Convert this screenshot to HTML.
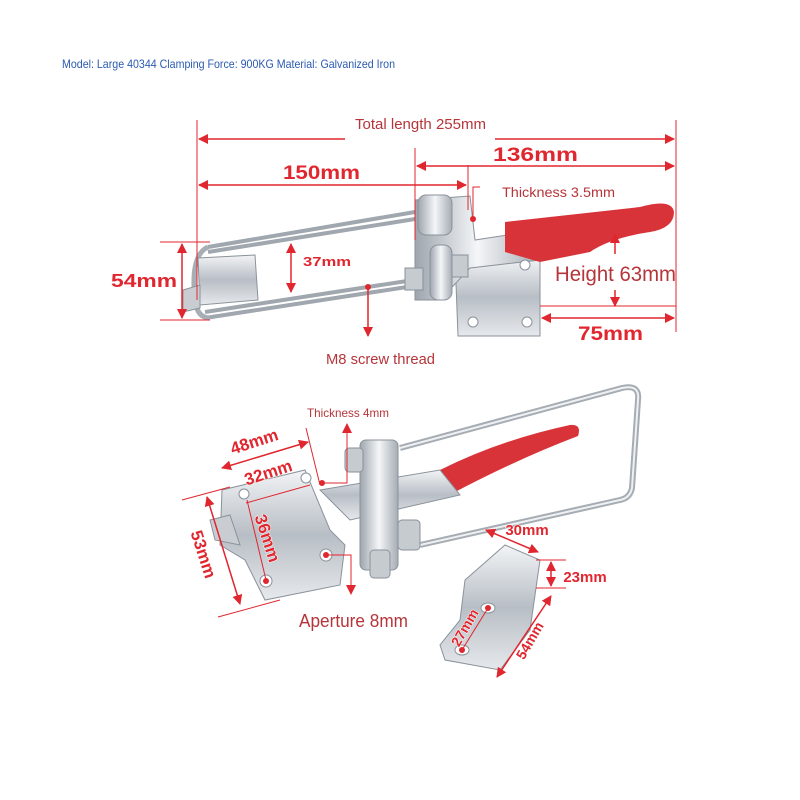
<!DOCTYPE html>
<html><head><meta charset="utf-8"><style>
html,body{margin:0;padding:0;background:#fff;width:800px;height:800px;overflow:hidden}
svg{display:block}
.t{font-family:"Liberation Sans Narrow","Liberation Sans",sans-serif;fill:#b5353a}
.b{font-family:"Liberation Sans","DejaVu Sans",sans-serif;font-weight:bold;fill:#e0262e;stroke:#fff;stroke-width:1;paint-order:stroke}
.d{stroke:#e0262e;stroke-width:1.5;fill:none}
.e{stroke:#e0262e;stroke-width:1;fill:none}
</style></head><body>
<svg width="800" height="800" viewBox="0 0 800 800" xmlns="http://www.w3.org/2000/svg">
<defs>
<marker id="a" markerWidth="10" markerHeight="10" refX="9" refY="5" orient="auto-start-reverse" markerUnits="userSpaceOnUse"><path d="M0,0 L10,5 L0,10 Z" fill="#e0262e"/></marker>
<linearGradient id="m" x1="0" y1="0" x2="0" y2="1"><stop offset="0" stop-color="#f2f4f6"/><stop offset=".5" stop-color="#b8bec5"/><stop offset="1" stop-color="#e6e9ec"/></linearGradient>
<linearGradient id="mh" x1="0" y1="0" x2="1" y2="0"><stop offset="0" stop-color="#9ea5ad"/><stop offset=".5" stop-color="#f4f6f8"/><stop offset="1" stop-color="#a5acb3"/></linearGradient>
</defs>
<text x="62" y="68" font-family="'Liberation Sans Narrow','Liberation Sans',sans-serif" font-size="12" fill="#2b5bb0" textLength="333" lengthAdjust="spacingAndGlyphs">Model: Large 40344 Clamping Force: 900KG Material: Galvanized Iron</text>

<!-- TOP CLAMP -->
<g stroke="#8a929a" stroke-width="1">
<path d="M208,247 L415,212 M208,252 L415,219" stroke="#a0a7ae" stroke-width="4" fill="none"/>
<path d="M205,312 L420,279 M205,318 L420,285" stroke="#a0a7ae" stroke-width="4" fill="none"/>
<path d="M208,247 Q190,255 195,300 Q197,318 210,318" stroke="#a8aeb5" stroke-width="5" fill="none"/>
<polygon points="198,258 255,255 258,300 200,305" fill="url(#m)"/>
<polygon points="183,290 200,285 200,308 183,312" fill="#c9cdd2"/>
<polygon points="455,258 540,258 540,336 458,336" fill="url(#m)"/>
<polygon points="415,200 470,196 475,240 540,230 540,260 470,268 440,300 415,300" fill="url(#mh)"/>
<rect x="418" y="195" width="34" height="40" rx="8" fill="url(#mh)"/>
<rect x="430" y="245" width="22" height="55" rx="8" fill="url(#mh)"/>
<rect x="405" y="268" width="18" height="22" fill="#c6cbd0"/>
<rect x="452" y="255" width="16" height="22" fill="#c6cbd0"/>
<circle cx="473" cy="322" r="5" fill="#fff"/><circle cx="527" cy="322" r="5" fill="#fff"/>
<circle cx="525" cy="265" r="5" fill="#fff"/>
</g>
<path d="M505,222 L640,207 Q672,198 674,212 Q674,228 650,232 Q610,238 590,252 L540,262 L505,252 Z" fill="#d9333a"/>

<line class="e" x1="197" y1="120" x2="197" y2="300"/>
<line class="e" x1="676" y1="120" x2="676" y2="332"/>
<line class="e" x1="415" y1="148" x2="415" y2="240"/>
<line class="e" x1="468" y1="165" x2="468" y2="210"/>
<line class="d" x1="199" y1="139" x2="345" y2="139" marker-start="url(#a)"/>
<line class="d" x1="495" y1="139" x2="674" y2="139" marker-end="url(#a)"/>
<text class="t" x="355" y="129" font-size="15" textLength="131" lengthAdjust="spacingAndGlyphs">Total length 255mm</text>
<line class="d" x1="417" y1="166" x2="674" y2="166" marker-start="url(#a)" marker-end="url(#a)"/>
<text class="b" x="493" y="161" font-size="19" textLength="85" lengthAdjust="spacingAndGlyphs">136mm</text>
<line class="d" x1="199" y1="185" x2="466" y2="185" marker-start="url(#a)" marker-end="url(#a)"/>
<text class="b" x="283" y="179" font-size="19" textLength="77" lengthAdjust="spacingAndGlyphs">150mm</text>
<line class="e" x1="160" y1="242" x2="210" y2="242"/>
<line class="e" x1="160" y1="320" x2="210" y2="320"/>
<line class="d" x1="182" y1="244" x2="182" y2="318" marker-start="url(#a)" marker-end="url(#a)"/>
<text class="b" x="111" y="287" font-size="18" textLength="66" lengthAdjust="spacingAndGlyphs">54mm</text>
<line class="d" x1="291" y1="244" x2="291" y2="292" marker-start="url(#a)" marker-end="url(#a)"/>
<text class="b" x="303" y="266" font-size="13" textLength="48" lengthAdjust="spacingAndGlyphs">37mm</text>
<path class="e" d="M473,218 L473,187 L480,187"/><circle cx="473" cy="219" r="3" fill="#e0262e"/>
<text class="t" x="502" y="197" font-size="14" textLength="113" lengthAdjust="spacingAndGlyphs">Thickness 3.5mm</text>
<text class="t" x="555" y="281" font-size="21" textLength="121" lengthAdjust="spacingAndGlyphs">Height 63mm</text>
<line class="d" x1="615" y1="234" x2="615" y2="254" marker-start="url(#a)"/>
<line class="d" x1="615" y1="290" x2="615" y2="306" marker-end="url(#a)"/>
<line class="e" x1="540" y1="306" x2="676" y2="306"/>
<line class="d" x1="542" y1="318" x2="674" y2="318" marker-start="url(#a)" marker-end="url(#a)"/>
<text class="b" x="578" y="340" font-size="19" textLength="65" lengthAdjust="spacingAndGlyphs">75mm</text>
<circle cx="368" cy="287" r="3" fill="#e0262e"/>
<line class="d" x1="368" y1="287" x2="368" y2="336" marker-end="url(#a)"/>
<text class="t" x="326" y="364" font-size="15" textLength="109" lengthAdjust="spacingAndGlyphs">M8 screw thread</text>

<!-- BOTTOM CLAMP -->
<g stroke="#8a929a" stroke-width="1" fill="none">
<path d="M400,448 L622,388 Q640,384 638,400 L632,488 Q630,498 620,500 L420,545" stroke="#a5acb3" stroke-width="6"/>
<path d="M400,448 L622,388 Q640,384 638,400 L632,488 Q630,498 620,500 L420,545" stroke="#eef0f2" stroke-width="2"/>
</g>
<path d="M440,470 Q500,440 570,425 Q582,424 578,436 Q520,458 455,492 Z" fill="#d9333a"/>
<g stroke="#8a929a" stroke-width="1">
<polygon points="320,490 440,470 460,495 350,520" fill="url(#m)"/>
<polygon points="222,490 305,470 330,530 345,545 340,585 265,600 245,560 220,545" fill="url(#m)"/>
<polygon points="210,520 230,515 240,545 215,540" fill="#c9cdd2"/>
<rect x="360" y="440" width="38" height="130" rx="6" fill="url(#mh)"/>
<rect x="345" y="448" width="18" height="24" rx="4" fill="#c6cbd0"/>
<rect x="370" y="550" width="20" height="28" rx="4" fill="#c6cbd0"/>
<rect x="398" y="520" width="22" height="30" rx="4" fill="#c6cbd0"/>
<polygon points="465,580 505,545 540,560 530,630 500,670 445,660 440,645 460,620" fill="url(#m)"/>
<circle cx="266" cy="581" r="6" fill="#fff"/><circle cx="326" cy="555" r="6" fill="#fff"/>
<circle cx="244" cy="494" r="5" fill="#fff"/><circle cx="306" cy="478" r="5" fill="#fff"/>
<ellipse cx="488" cy="608" rx="7" ry="5" fill="#fff"/><ellipse cx="462" cy="650" rx="7" ry="5" fill="#fff"/>
</g>

<text class="t" x="307" y="417" font-size="12" textLength="82" lengthAdjust="spacingAndGlyphs">Thickness 4mm</text>
<path class="e" d="M322,483 L347,483 L347,424" marker-end="url(#a)"/>
<circle cx="322" cy="483" r="3" fill="#e0262e"/>
<line class="e" x1="306" y1="428" x2="320" y2="485"/>
<line class="d" x1="222" y1="468" x2="308" y2="442" marker-start="url(#a)" marker-end="url(#a)"/>
<text class="b" transform="translate(256,447) rotate(-18)" font-size="17" text-anchor="middle">48mm</text>
<line class="e" x1="246" y1="503" x2="310" y2="485"/>
<text class="b" transform="translate(270,478) rotate(-18)" font-size="17" text-anchor="middle">32mm</text>
<line class="e" x1="182" y1="500" x2="230" y2="487"/>
<line class="e" x1="218" y1="617" x2="280" y2="600"/>
<line class="d" x1="207" y1="497" x2="240" y2="604" marker-start="url(#a)" marker-end="url(#a)"/>
<text class="b" transform="translate(198,556) rotate(72)" font-size="17" text-anchor="middle">53mm</text>
<line class="e" x1="247" y1="500" x2="266" y2="580"/><circle cx="266" cy="581" r="3" fill="#e0262e"/>
<text class="b" transform="translate(262,540) rotate(72)" font-size="17" text-anchor="middle">36mm</text>
<circle cx="326" cy="555" r="3" fill="#e0262e"/>
<path class="e" d="M326,555 L351,555 L351,594" marker-end="url(#a)"/>
<text class="t" x="299" y="627" font-size="18" textLength="109" lengthAdjust="spacingAndGlyphs">Aperture 8mm</text>

<line class="d" x1="486" y1="530" x2="538" y2="552" marker-start="url(#a)" marker-end="url(#a)"/>
<text class="b" x="527" y="535" font-size="15" text-anchor="middle">30mm</text>
<line class="e" x1="536" y1="560" x2="566" y2="560"/>
<line class="e" x1="536" y1="588" x2="566" y2="588"/>
<line class="d" x1="551" y1="562" x2="551" y2="586" marker-start="url(#a)" marker-end="url(#a)"/>
<text class="b" x="585" y="582" font-size="15" text-anchor="middle">23mm</text>
<line class="e" x1="462" y1="650" x2="488" y2="608"/><circle cx="488" cy="608" r="3" fill="#e0262e"/><circle cx="462" cy="650" r="3" fill="#e0262e"/>
<text class="b" transform="translate(469,630) rotate(-60)" font-size="14" text-anchor="middle">27mm</text>
<line class="d" x1="551" y1="596" x2="497" y2="677" marker-start="url(#a)" marker-end="url(#a)"/>
<text class="b" transform="translate(534,643) rotate(-60)" font-size="14" text-anchor="middle">54mm</text>
</svg>
</body></html>
